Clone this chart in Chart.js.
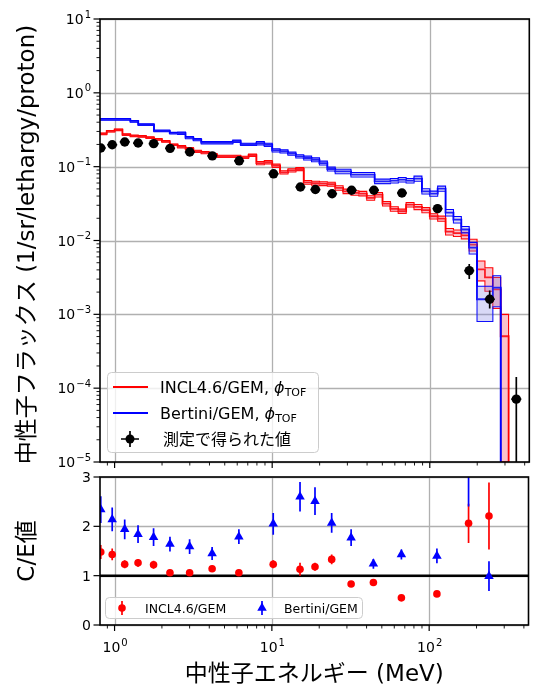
<!DOCTYPE html>
<html>
  <head>
    <meta charset="utf-8">
    <title>中性子フラックス</title>
    <script src="https://cdn.jsdelivr.net/npm/chart.js"></script>
    <style>
      body { margin: 0; background: #fff; }
      .wrap { position: relative; width: 534px; height: 685px; }
      canvas { position: absolute; left: 0; }
      #flux { top: 0; }
      #ratio { top: 470px; }
    </style>
  </head>

  <body>
    <div class="wrap">
      <canvas id="flux" width="534" height="470"></canvas>
      <canvas id="ratio" width="534" height="215"></canvas>
    </div>

    <script>
      // simulation bin edges (MeV), 20 bins per decade
      const binEdges = [0.794, 0.891, 1.0, 1.122, 1.259, 1.413, 1.585, 1.778, 1.995, 2.239,
        2.512, 2.818, 3.162, 3.548, 3.981, 4.467, 5.012, 5.623, 6.310, 7.079,
        7.943, 8.913, 10.0, 11.22, 12.59, 14.13, 15.85, 17.78, 19.95, 22.39,
        25.12, 28.18, 31.62, 35.48, 39.81, 44.67, 50.12, 56.23, 63.10, 70.79,
        79.43, 89.13, 100.0, 112.2, 125.9, 141.3, 158.5, 177.8, 199.5, 223.9,
        251.2, 281.8, 316.2];

      // INCL4.6/GEM flux per bin and relative error
      const inclFlux = [0.279, 0.302, 0.316, 0.271, 0.262, 0.257, 0.247, 0.235, 0.220, 0.198,
        0.186, 0.175, 0.161, 0.155, 0.145, 0.138, 0.138, 0.138, 0.134, 0.143,
        0.112, 0.115, 0.103, 0.0838, 0.0891, 0.093, 0.0614, 0.0598, 0.0589, 0.058,
        0.0515, 0.0464, 0.0441, 0.0432, 0.0378, 0.0418, 0.0316, 0.0268, 0.0249, 0.0306,
        0.0285, 0.0258, 0.0213, 0.0198, 0.0132, 0.0126, 0.0117, 0.0088, 0.00406, 0.00316,
        0.00218, 0.000505];
      const inclErr = [0.025, 0.025, 0.025, 0.025, 0.025, 0.025, 0.025, 0.025, 0.025, 0.025,
        0.035, 0.035, 0.035, 0.035, 0.035, 0.035, 0.035, 0.035, 0.035, 0.035,
        0.05, 0.05, 0.05, 0.05, 0.05, 0.05, 0.06, 0.06, 0.06, 0.06,
        0.07, 0.07, 0.07, 0.07, 0.07, 0.07, 0.07, 0.07, 0.07, 0.07,
        0.08, 0.08, 0.08, 0.08, 0.1, 0.1, 0.1, 0.18, 0.3, 0.35,
        0.45, 0.98];

      // Bertini/GEM flux per bin and relative error
      const bertiniFlux = [0.438, 0.438, 0.438, 0.438, 0.412, 0.370, 0.370, 0.306, 0.306, 0.284,
        0.284, 0.247, 0.232, 0.211, 0.211, 0.211, 0.211, 0.221, 0.201, 0.201,
        0.208, 0.198, 0.166, 0.161, 0.150, 0.138, 0.131, 0.124, 0.112, 0.093,
        0.0864, 0.0864, 0.078, 0.078, 0.078, 0.0633, 0.0633, 0.0647, 0.0667, 0.0647,
        0.0689, 0.0464, 0.0432, 0.0504, 0.0239, 0.0192, 0.0141, 0.0080, 0.0016, 0.0016,
        0.0023];
      const bertiniErr = [0.025, 0.025, 0.025, 0.025, 0.025, 0.025, 0.025, 0.025, 0.025, 0.025,
        0.035, 0.035, 0.035, 0.035, 0.035, 0.035, 0.035, 0.035, 0.035, 0.035,
        0.05, 0.05, 0.05, 0.05, 0.05, 0.05, 0.06, 0.06, 0.06, 0.06,
        0.07, 0.07, 0.07, 0.07, 0.07, 0.07, 0.07, 0.07, 0.07, 0.07,
        0.08, 0.08, 0.08, 0.08, 0.1, 0.1, 0.1, 0.18, 0.5, 0.5,
        0.45];

      // measured values
      const expEnergy = [0.817, 0.966, 1.16, 1.41, 1.77, 2.25, 3.0, 4.17, 6.17, 10.2,
        15.1, 18.8, 24.0, 31.9, 44.2, 66.6, 112, 178, 240, 354];
      const expFlux = [0.179, 0.198, 0.216, 0.209, 0.205, 0.177, 0.158, 0.140, 0.120, 0.080,
        0.053, 0.049, 0.043, 0.048, 0.048, 0.044, 0.027, 0.0039, 0.0016, 7.1e-5];
      const expErrLow = [0.007, 0.008, 0.009, 0.008, 0.008, 0.007, 0.006, 0.006, 0.005, 0.003,
        0.002, 0.002, 0.002, 0.002, 0.002, 0.002, 0.003, 0.0009, 0.0004, 7.1e-5];
      const expErrHigh = [0.007, 0.008, 0.009, 0.008, 0.008, 0.007, 0.006, 0.006, 0.005, 0.003,
        0.002, 0.002, 0.002, 0.002, 0.002, 0.002, 0.004, 0.0009, 0.0005, 7.1e-5];

      // C/E ratios
      const ratioEnergy = expEnergy.slice(0, 19);
      const ratioIncl = [1.48, 1.43, 1.23, 1.26, 1.22, 1.06, 1.06, 1.14, 1.06, 1.23,
        1.13, 1.18, 1.33, 0.83, 0.86, 0.55, 0.63, 2.06, 2.21];
      const ratioInclErr = [0.14, 0.12, 0.08, 0.08, 0.08, 0.06, 0.06, 0.06, 0.06, 0.08,
        0.13, 0.08, 0.10, 0.05, 0.05, 0.04, 0.05, 0.4, 0.68];
      const ratioBertini = [2.34, 2.14, 1.94, 1.84, 1.78, 1.64, 1.59, 1.45, 1.79, 2.05,
        2.60, 2.51, 2.07, 1.77, 1.24, 1.43, 1.40, 3.4, 0.99];
      const ratioBertiniErr = [0.27, 0.24, 0.2, 0.18, 0.18, 0.15, 0.15, 0.13, 0.15, 0.22,
        0.3, 0.28, 0.2, 0.17, 0.1, 0.1, 0.15, 1.0, 0.3];

      // axes
      const energyRange = [0.808, 428];
      const fluxRange = [1e-5, 10];
      const ratioRange = [0, 3];
      const energyTicks = [1, 10, 100];
      const energyTickExp = ['0', '1', '2'];
      const fluxTicks = [1e-5, 1e-4, 1e-3, 1e-2, 1e-1, 1, 10];
      const fluxTickExp = ['\u22125', '\u22124', '\u22123', '\u22122', '\u22121', '0', '1'];
      const ratioTicks = [0, 1, 2, 3];
      const ratioTickLabels = ['0', '1', '2', '3'];
      const refLevel = 1;

      const FONT = '"DejaVu Sans", "Noto Sans CJK JP", sans-serif';
      const GRID = '#b0b0b0';

      function steps(vals) {
        const pts = vals.map((v, i) => ({ x: binEdges[i], y: v }));
        pts.push({ x: binEdges[vals.length], y: vals[vals.length - 1] });
        pts.push({ x: binEdges[vals.length], y: 1e-9 });
        return pts;
      }

      function histDatasets(vals, errs, color, fillColor, order) {
        const upper = vals.map((v, i) => v * (1 + errs[i]));
        const lower = vals.map((v, i) => v * (1 - errs[i]));
        const base = { stepped: 'before', pointRadius: 0, pointHitRadius: 0, borderColor: color, order: order };
        return [
          Object.assign({}, base, { data: steps(upper), borderWidth: 1.1, fill: '+1', backgroundColor: fillColor }),
          Object.assign({}, base, { data: steps(lower), borderWidth: 1.1, fill: false }),
          Object.assign({}, base, { data: steps(vals), borderWidth: 1.8, fill: false })
        ];
      }

      function minorTicks(min, max) {
        const out = [];
        for (let e = Math.floor(Math.log10(min)); e <= Math.ceil(Math.log10(max)); e++) {
          for (let k = 2; k <= 9; k++) {
            const v = k * Math.pow(10, e);
            if (v >= min && v <= max) out.push(v);
          }
        }
        return out;
      }

      function drawPow(ctx, exp, x, y, align) {
        ctx.font = '14px ' + FONT;
        const wb = ctx.measureText('10').width;
        ctx.font = '10px ' + FONT;
        const we = ctx.measureText(exp).width;
        const x0 = align === 'right' ? x - wb - we - 1 : x - (wb + we) / 2;
        ctx.textAlign = 'left';
        ctx.textBaseline = 'alphabetic';
        ctx.font = '14px ' + FONT;
        ctx.fillText('10', x0, y);
        ctx.font = '10px ' + FONT;
        ctx.fillText(exp, x0 + wb + 1, y - 6.5);
      }

      function drawGrid(chart, xs, ys) {
        const { ctx, chartArea: a, scales: { x, y } } = chart;
        ctx.save();
        ctx.strokeStyle = GRID;
        ctx.lineWidth = 1.3;
        xs.forEach(v => {
          const px = Math.round(x.getPixelForValue(v)) + 0.5;
          ctx.beginPath(); ctx.moveTo(px, a.top); ctx.lineTo(px, a.bottom); ctx.stroke();
        });
        ys.forEach(v => {
          const py = Math.round(y.getPixelForValue(v)) + 0.5;
          ctx.beginPath(); ctx.moveTo(a.left, py); ctx.lineTo(a.right, py); ctx.stroke();
        });
        ctx.restore();
      }

      function drawFrame(ctx, a) {
        ctx.strokeStyle = '#000';
        ctx.lineWidth = 1.6;
        ctx.strokeRect(a.left, a.top, a.right - a.left, a.bottom - a.top);
      }

      function drawXTicks(chart) {
        const { ctx, chartArea: a, scales: { x } } = chart;
        ctx.strokeStyle = '#000';
        minorTicks(energyRange[0], energyRange[1]).forEach(v => {
          const px = x.getPixelForValue(v);
          ctx.lineWidth = 0.9;
          ctx.beginPath(); ctx.moveTo(px, a.bottom); ctx.lineTo(px, a.bottom + 3.5); ctx.stroke();
        });
        energyTicks.forEach(v => {
          const px = x.getPixelForValue(v);
          ctx.lineWidth = 1.2;
          ctx.beginPath(); ctx.moveTo(px, a.bottom); ctx.lineTo(px, a.bottom + 6); ctx.stroke();
        });
      }

      const errorBars = {
        id: 'errorBars',
        afterDatasetsDraw(chart) {
          const { ctx, chartArea: a } = chart;
          const ys = chart.scales.y;
          ctx.save();
          ctx.beginPath();
          ctx.rect(a.left, a.top, a.right - a.left, a.bottom - a.top);
          ctx.clip();
          chart.data.datasets.forEach((ds, di) => {
            if (!ds.errLow) return;
            const meta = chart.getDatasetMeta(di);
            ctx.strokeStyle = ds.barColor;
            ctx.lineWidth = 1.7;
            meta.data.forEach((pt, i) => {
              const v = ds.data[i].y;
              const lo = v - ds.errLow[i];
              const hi = v + ds.errHigh[i];
              const yLo = lo > 0 ? ys.getPixelForValue(lo) : a.bottom + 10;
              const yHi = ys.getPixelForValue(hi);
              ctx.beginPath();
              ctx.moveTo(pt.x, yLo); ctx.lineTo(pt.x, yHi);
              if (ds.capX) { ctx.moveTo(pt.x - ds.capX, pt.y); ctx.lineTo(pt.x + ds.capX, pt.y); }
              ctx.stroke();
            });
          });
          ctx.restore();
        }
      };

      const fluxAxes = {
        id: 'fluxAxes',
        beforeDatasetsDraw(chart) { drawGrid(chart, energyTicks, fluxTicks); },
        afterDraw(chart) {
          const { ctx, chartArea: a, scales: { y } } = chart;
          ctx.save();
          drawFrame(ctx, a);
          drawXTicks(chart);
          minorTicks(fluxRange[0], fluxRange[1]).forEach(v => {
            const py = y.getPixelForValue(v);
            ctx.lineWidth = 0.9;
            ctx.beginPath(); ctx.moveTo(a.left, py); ctx.lineTo(a.left - 3.5, py); ctx.stroke();
          });
          ctx.fillStyle = '#000';
          fluxTicks.forEach((v, i) => {
            const py = y.getPixelForValue(v);
            ctx.lineWidth = 1.2;
            ctx.beginPath(); ctx.moveTo(a.left, py); ctx.lineTo(a.left - 6.5, py); ctx.stroke();
            drawPow(ctx, fluxTickExp[i], a.left - 9, py + 5, 'right');
          });
          // y title
          ctx.translate(28, (a.top + a.bottom) / 2 + 4);
          ctx.rotate(-Math.PI / 2);
          ctx.font = '23px ' + FONT;
          ctx.textAlign = 'center';
          ctx.textBaseline = 'middle';
          ctx.fillText('中性子フラックス (1/sr/lethargy/proton)', 0, 0);
          ctx.restore();

          // legend
          ctx.save();
          ctx.beginPath();
          ctx.roundRect(107.5, 372.5, 211, 80, 4);
          ctx.fillStyle = 'rgba(255,255,255,0.8)';
          ctx.fill();
          ctx.strokeStyle = '#cccccc';
          ctx.lineWidth = 1;
          ctx.stroke();
          const entries = [['INCL4.6/GEM, ', '#ff0000', 387], ['Bertini/GEM, ', '#0000ff', 413]];
          entries.forEach(([txt, col, ly]) => {
            ctx.strokeStyle = col;
            ctx.lineWidth = 1.8;
            ctx.beginPath(); ctx.moveTo(113, ly); ctx.lineTo(148, ly); ctx.stroke();
            ctx.fillStyle = '#000';
            ctx.textAlign = 'left';
            ctx.textBaseline = 'alphabetic';
            ctx.font = '16px ' + FONT;
            ctx.fillText(txt, 160, ly + 6);
            let xx = 160 + ctx.measureText(txt).width;
            ctx.font = 'italic 16px ' + FONT;
            ctx.fillText('\u03d5', xx, ly + 6);
            xx += ctx.measureText('\u03d5').width;
            ctx.font = '11px ' + FONT;
            ctx.fillText('TOF', xx, ly + 9);
          });
          ctx.strokeStyle = '#000';
          ctx.lineWidth = 1.7;
          ctx.beginPath();
          ctx.moveTo(121, 439); ctx.lineTo(139, 439);
          ctx.moveTo(130, 431); ctx.lineTo(130, 447);
          ctx.stroke();
          ctx.fillStyle = '#000';
          ctx.beginPath(); ctx.arc(130, 439, 4.5, 0, Math.PI * 2); ctx.fill();
          ctx.font = '16px ' + FONT;
          ctx.fillText('測定で得られた値', 163, 445);
          ctx.restore();
        }
      };

      function drawTriangle(ctx, x, y, r) {
        ctx.beginPath();
        let rad = 0;
        ctx.moveTo(x + Math.sin(rad) * r, y - Math.cos(rad) * r);
        rad += Math.PI * 2 / 3;
        ctx.lineTo(x + Math.sin(rad) * r, y - Math.cos(rad) * r);
        rad += Math.PI * 2 / 3;
        ctx.lineTo(x + Math.sin(rad) * r, y - Math.cos(rad) * r);
        ctx.closePath();
        ctx.fill();
      }

      const ratioAxes = {
        id: 'ratioAxes',
        beforeDatasetsDraw(chart) { drawGrid(chart, energyTicks, ratioTicks); },
        afterDraw(chart) {
          const { ctx, chartArea: a, scales: { x, y } } = chart;
          ctx.save();
          drawFrame(ctx, a);
          drawXTicks(chart);
          ctx.fillStyle = '#000';
          ratioTicks.forEach((v, i) => {
            const py = y.getPixelForValue(v);
            ctx.lineWidth = 1.2;
            ctx.beginPath(); ctx.moveTo(a.left, py); ctx.lineTo(a.left - 6.5, py); ctx.stroke();
            ctx.font = '14px ' + FONT;
            ctx.textAlign = 'right';
            ctx.textBaseline = 'alphabetic';
            ctx.fillText(ratioTickLabels[i], a.left - 9, py + 5);
          });
          energyTicks.forEach((v, i) => {
            drawPow(ctx, energyTickExp[i], x.getPixelForValue(v), a.bottom + 27, 'center');
          });
          ctx.font = '23px ' + FONT;
          ctx.textAlign = 'center';
          ctx.textBaseline = 'alphabetic';
          ctx.fillText('中性子エネルギー (MeV)', (a.left + a.right) / 2, 211);
          ctx.save();
          ctx.translate(28, (a.top + a.bottom) / 2);
          ctx.rotate(-Math.PI / 2);
          ctx.textBaseline = 'middle';
          ctx.fillText('C/E値', 0, 0);
          ctx.restore();

          // legend
          ctx.beginPath();
          ctx.roundRect(105.5, 127.5, 257, 21, 4);
          ctx.fillStyle = 'rgba(255,255,255,0.8)';
          ctx.fill();
          ctx.strokeStyle = '#cccccc';
          ctx.lineWidth = 1;
          ctx.stroke();
          ctx.lineWidth = 1.7;
          ctx.strokeStyle = '#ff0000';
          ctx.beginPath(); ctx.moveTo(122, 131); ctx.lineTo(122, 145); ctx.stroke();
          ctx.fillStyle = '#ff0000';
          ctx.beginPath(); ctx.arc(122, 138, 3.8, 0, Math.PI * 2); ctx.fill();
          ctx.strokeStyle = '#0000ff';
          ctx.beginPath(); ctx.moveTo(262, 131); ctx.lineTo(262, 145); ctx.stroke();
          ctx.fillStyle = '#0000ff';
          drawTriangle(ctx, 262, 138, 5.5);
          ctx.fillStyle = '#000';
          ctx.font = '12.5px ' + FONT;
          ctx.textAlign = 'left';
          ctx.fillText('INCL4.6/GEM', 145, 142.5);
          ctx.fillText('Bertini/GEM', 284, 142.5);
          ctx.restore();
        }
      };

      const baseOptions = (pad, yType, yRange) => ({
        responsive: false,
        animation: false,
        layout: { padding: pad },
        scales: {
          x: { type: 'logarithmic', min: energyRange[0], max: energyRange[1], display: false },
          y: { type: yType, min: yRange[0], max: yRange[1], display: false }
        },
        plugins: { legend: { display: false }, tooltip: { enabled: false } }
      });

      new Chart(document.getElementById('flux'), {
        type: 'line',
        data: {
          datasets: [
            {
              data: expEnergy.map((e, i) => ({ x: e, y: expFlux[i] })),
              showLine: false, pointRadius: 4.7, pointBackgroundColor: '#000', pointBorderWidth: 0,
              order: 0, errLow: expErrLow, errHigh: expErrHigh, barColor: '#000', capX: 5
            },
            ...histDatasets(bertiniFlux, bertiniErr, '#0000ff', 'rgba(120,120,225,0.28)', 1),
            ...histDatasets(inclFlux, inclErr, '#ff0000', 'rgba(240,80,110,0.35)', 2)
          ]
        },
        options: baseOptions({ left: 100, top: 19, right: 1, bottom: 8 }, 'logarithmic', fluxRange),
        plugins: [fluxAxes, errorBars]
      });

      new Chart(document.getElementById('ratio'), {
        type: 'line',
        data: {
          datasets: [
            {
              data: ratioEnergy.map((e, i) => ({ x: e, y: ratioIncl[i] })),
              showLine: false, pointRadius: 3.8, pointBackgroundColor: '#ff0000', pointBorderWidth: 0,
              order: 0, errLow: ratioInclErr, errHigh: ratioInclErr, barColor: '#ff0000'
            },
            {
              data: ratioEnergy.map((e, i) => ({ x: e, y: ratioBertini[i] })),
              showLine: false, pointRadius: 5.5, pointStyle: 'triangle', pointBackgroundColor: '#0000ff',
              pointBorderWidth: 0, order: 0, errLow: ratioBertiniErr, errHigh: ratioBertiniErr, barColor: '#0000ff'
            },
            {
              data: energyRange.map(e => ({ x: e, y: refLevel })),
              borderColor: '#000', borderWidth: 2.5, pointRadius: 0, order: 1
            }
          ]
        },
        options: baseOptions({ left: 100, top: 7, right: 1, bottom: 60 }, 'linear', ratioRange),
        plugins: [ratioAxes, errorBars]
      });
    </script>
  </body>
</html>
